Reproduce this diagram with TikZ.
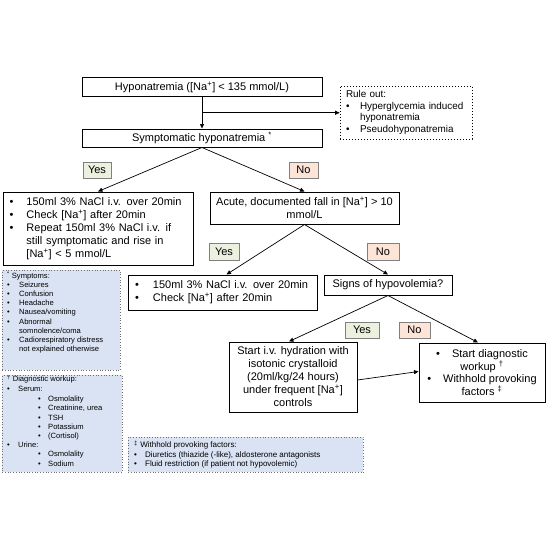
\documentclass[tikz,border=0pt]{standalone}
\usepackage{fontspec}
\setmainfont{Liberation Sans}
\usetikzlibrary{arrows.meta,calc}
\definecolor{yesc}{RGB}{235,241,222}
\definecolor{noc}{RGB}{252,228,214}
\definecolor{notec}{RGB}{218,227,243}
\definecolor{notebd}{RGB}{110,110,110}
\newcommand\bu[1]{\makebox[#1][l]{\textbullet}}
\newcommand\supx[1]{\textsuperscript{#1}}
\begin{document}
\begin{tikzpicture}[x=1pt,y=-1pt,
  box/.style={draw=black, line width=1pt, fill=white, inner sep=0pt, align=center,
    font=\fontsize{11}{13}\selectfont},
  lab/.style={draw=gray, line width=0.6pt, inner sep=0pt, font=\fontsize{11}{13}\selectfont},
  yes/.style={lab, fill=yesc},
  no/.style={lab, fill=noc},
  note/.style={draw=notebd, dotted, line width=0.7pt, fill=notec, inner sep=0pt},
  notetext/.style={inner sep=0pt, align=left, anchor=north west, font=\fontsize{7.6}{9.2}\selectfont},
  conn/.style={line width=0.7pt, -{Triangle[length=4.5pt,width=4pt]}},
]
\useasboundingbox (0,0) rectangle (550,550);

% main boxes
\node[box, minimum width=240pt, minimum height=19pt] (hypo) at (202,87)
  {Hyponatremia ([Na\supx{+}] < 135 mmol/L)};
\node[box, minimum width=240pt, minimum height=18pt] (symp) at (202,138)
  {Symptomatic hyponatremia \supx{*}};
\node[box, draw=black, dotted, line width=0.7pt, minimum width=132pt, minimum height=53pt,
  align=left, text width=120pt, inner xsep=6pt, font=\fontsize{9.9}{11.8}\selectfont] (rule) at (406,112.5)
  {Rule out:\\
   \bu{14pt}Hyperglycemia induced\\
   \hspace*{14pt}hyponatremia\\
   \bu{14pt}Pseudohyponatremia};

\node[box, minimum height=73pt, text width=177pt, inner xsep=6.5pt, align=left] (left) at (98,228.5)
  {\bu{17pt}150ml 3\% NaCl i.v. over 20min\\
   \bu{17pt}Check [Na\supx{+}] after 20min\\
   \bu{17pt}Repeat 150ml 3\% NaCl i.v. if\\
   \hspace*{17pt}still symptomatic and rise in\\
   \hspace*{17pt}[Na\supx{+}] < 5 mmol/L};

\node[box, minimum width=189pt, minimum height=32pt, font=\fontsize{11}{12.7}\selectfont] (acute) at (304.5,208)
  {Acute, documented fall in [Na\supx{+}] > 10\\ mmol/L};

\node[box, minimum height=35pt, text width=175pt, inner xsep=7pt, align=left] (small) at (222.5,292.5)
  {\bu{18pt}150ml 3\% NaCl i.v. over 20min\\
   \bu{18pt}Check [Na\supx{+}] after 20min};

\node[box, minimum width=128pt, minimum height=20pt] (signs) at (388,285)
  {Signs of hypovolemia?};

\node[box, minimum width=128pt, minimum height=70pt] (hydr) at (293,377)
  {Start i.v. hydration with\\ isotonic crystalloid\\ (20ml/kg/24 hours)\\
   under frequent [Na\supx{+}]\\ controls};

\node[box, minimum width=126pt, minimum height=59pt, font=\fontsize{11}{11.8}\selectfont] (diag) at (482,372.5)
  {\textbullet\hspace{12pt}Start diagnostic\\ workup \supx{\textdagger}\\
   \textbullet\hspace{12pt}Withhold provoking\\ factors \supx{\textdaggerdbl}};

% yes / no labels
\node[yes, minimum width=28pt, minimum height=16pt] (y1) at (97,170) {Yes};
\node[no, minimum width=29pt, minimum height=16pt] (n1) at (303.5,170) {No};
\node[yes, minimum width=30pt, minimum height=17pt] (y2) at (224,251.5) {Yes};
\node[no, minimum width=32pt, minimum height=17pt] (n2) at (383,251.5) {No};
\node[yes, minimum width=34pt, minimum height=16pt] (y3) at (362,330) {Yes};
\node[no, minimum width=31pt, minimum height=16pt] (n3) at (414.5,330) {No};

% notes
\node[note, minimum width=118pt, minimum height=100pt, anchor=north west] (nsymp) at (2,270) {};
\node[notetext] (nsympt) at ($(nsymp.north west)+(5,1.5)$)
  {\supx{*} Symptoms:\\
   \bu{12pt}Seizures\\
   \bu{12pt}Confusion\\
   \bu{12pt}Headache\\
   \bu{12pt}Nausea/vomiting\\
   \bu{12pt}Abnormal\\
   \hspace*{12pt}somnolence/coma\\
   \bu{12pt}Cadiorespiratory distress\\
   \hspace*{12pt}not explained otherwise};

\node[note, minimum width=120pt, minimum height=97pt, anchor=north west] (ndiag) at (2,375) {};
\node[notetext] (ndiagt) at ($(ndiag.north west)+(5,0)$)
  {\supx{\textdagger} Diagnostic workup:\\
   \bu{11pt}Serum:\\[1.5pt]
   \hspace*{31pt}\bu{10pt}Osmolality\\
   \hspace*{31pt}\bu{10pt}Creatinine, urea\\
   \hspace*{31pt}\bu{10pt}TSH\\
   \hspace*{31pt}\bu{10pt}Potassium\\
   \hspace*{31pt}\bu{10pt}(Cortisol)\\
   \bu{11pt}Urine:\\
   \hspace*{31pt}\bu{10pt}Osmolality\\
   \hspace*{31pt}\bu{10pt}Sodium};

\node[note, minimum width=235pt, minimum height=35pt, anchor=north west] (nwith) at (128,437) {};
\node[notetext, font=\fontsize{8}{9.5}\selectfont] (nwitht) at ($(nwith.north west)+(6,3.5)$)
  {\supx{\textdaggerdbl} Withhold provoking factors:\\
   \bu{11pt}Diuretics (thiazide (-like), aldosterone antagonists\\
   \bu{11pt}Fluid restriction (if patient not hypovolemic)};

% connectors
\draw[conn] (hypo.south) -- (symp.north);
\coordinate (br) at ($(hypo.south)!0.5!(symp.north)$);
\draw[conn] (br) -- (br -| rule.west);
\draw[conn] (symp.south) -- (left.north);
\draw[conn] (symp.south) -- (acute.north);
\draw[conn] (acute.south) -- ($(small.north)+(4,0)$);
\draw[conn] (acute.south) -- (signs.north);
\draw[conn] (signs.south) -- ($(hydr.north)+(-4,0)$);
\draw[conn] (signs.south) -- ($(diag.north)+(-4,0)$);
\draw[conn] ($(hydr.east)+(0,3)$) -- ($(diag.west)+(0,-1)$);
\end{tikzpicture}
\end{document}
